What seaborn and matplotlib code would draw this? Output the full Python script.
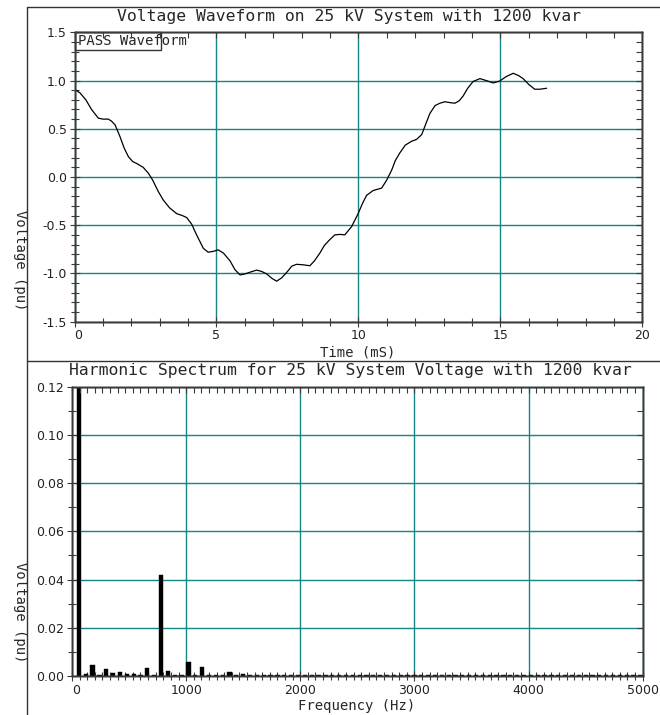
import matplotlib
matplotlib.use("Agg")
import matplotlib.pyplot as plt
import seaborn as sns
import numpy as np
import pandas as pd
from matplotlib.lines import Line2D
from matplotlib.patches import Rectangle
from matplotlib.ticker import MultipleLocator

# ---------------- data ----------------
time_ms = [0.0, 0.2, 0.4, 0.6, 0.84, 1.0, 1.19, 1.3, 1.43, 1.6, 1.75, 1.9, 2.05, 2.19,
           2.42, 2.6, 2.75, 2.95, 3.13, 3.35, 3.6, 3.8, 3.95, 4.13, 4.3, 4.54, 4.71, 4.9,
           5.06, 5.25, 5.48, 5.65, 5.83, 6.0, 6.2, 6.42, 6.6, 6.77, 6.95, 7.12, 7.3, 7.5,
           7.65, 7.82, 8.05, 8.29, 8.45, 8.64, 8.8, 8.99, 9.17, 9.35, 9.52, 9.76, 9.99,
           10.15, 10.29, 10.52, 10.82, 11.0, 11.17, 11.3, 11.46, 11.65, 11.87, 12.05,
           12.23, 12.4, 12.52, 12.7, 12.87, 13.05, 13.25, 13.4, 13.55, 13.69, 13.85,
           14.04, 14.28, 14.5, 14.75, 14.98, 15.2, 15.45, 15.65, 15.8, 16.0, 16.21,
           16.4, 16.63]
voltage_pu = [0.91, 0.87, 0.80, 0.70, 0.61, 0.60, 0.60, 0.58, 0.54, 0.42, 0.30, 0.21,
              0.16, 0.14, 0.10, 0.04, -0.03, -0.15, -0.24, -0.32, -0.38, -0.40, -0.42,
              -0.49, -0.60, -0.74, -0.78, -0.77, -0.755, -0.79, -0.87, -0.96, -1.015,
              -1.005, -0.985, -0.965, -0.98, -1.005, -1.05, -1.08, -1.045, -0.98, -0.925,
              -0.905, -0.91, -0.92, -0.87, -0.79, -0.71, -0.65, -0.60, -0.595, -0.60,
              -0.515, -0.38, -0.27, -0.19, -0.14, -0.115, -0.03, 0.07, 0.17, 0.25, 0.33,
              0.37, 0.39, 0.44, 0.57, 0.66, 0.74, 0.765, 0.78, 0.77, 0.765, 0.79, 0.84,
              0.92, 0.99, 1.02, 1.0, 0.975, 0.995, 1.04, 1.075, 1.05, 1.02, 0.96, 0.91,
              0.91, 0.92]

harmonic_order = list(range(1, 84))
harmonic_volt = [1.0, 0.0008, 0.0047, 0.0004, 0.0028, 0.0012, 0.0017, 0.0008, 0.0008,
                 0.0003, 0.0033, 0.0004, 0.042, 0.0022, 0.0005, 0.0004, 0.0057, 0.0004,
                 0.0037, 0.0003, 0.0004, 0.0003, 0.0017, 0.0003, 0.0010, 0.0003, 0.0003,
                 0.0003, 0.0004, 0.0003, 0.0003, 0.0003, 0.0003, 0.0003, 0.0003, 0.0003,
                 0.0003, 0.0003, 0.0003, 0.0003, 0.0003, 0.0003, 0.0003, 0.0003, 0.0003,
                 0.0003, 0.0003, 0.0003, 0.0003, 0.0003, 0.0003, 0.0003, 0.0003, 0.0003,
                 0.0003, 0.0003, 0.0003, 0.0003, 0.0003, 0.0003, 0.0003, 0.0003, 0.0003,
                 0.0003, 0.0003, 0.0003, 0.0003, 0.0003, 0.0003, 0.0003, 0.0003, 0.0003,
                 0.0003, 0.0003, 0.0003, 0.0003, 0.0003, 0.0003, 0.0003, 0.0003, 0.0003,
                 0.0003, 0.0003]
fundamental_hz = 60

top_title = "Voltage Waveform on 25 kV System with 1200 kvar"
bottom_title = "Harmonic Spectrum for 25 kV System Voltage with 1200 kvar"
top_xlabel = "Time (mS)"
bottom_xlabel = "Frequency (Hz)"
ylabel = "Voltage (pu)"
legend_text = "PASS Waveform"
top_xticks = [0, 5, 10, 15, 20]
top_yticks = [-1.5, -1.0, -0.5, 0.0, 0.5, 1.0, 1.5]
bot_xticks = [0, 1000, 2000, 3000, 4000, 5000]
bot_yticks = [0.00, 0.02, 0.04, 0.06, 0.08, 0.10, 0.12]

# ---------------- style ----------------
sns.set_style("white")
plt.rcParams["font.family"] = ["DejaVu Sans"]
MONO = "DejaVu Sans Mono"
GRID = "#168585"
SPINE = "#3a3a3a"

fig = plt.figure(figsize=(6.6, 7.15), dpi=100)
W, H = 660.0, 715.0

def px_axes(l, t, r, b):
    return fig.add_axes([l / W, 1 - b / H, (r - l) / W, (b - t) / H])

ax1 = px_axes(74.5, 32.3, 642.3, 321.7)
ax2 = px_axes(72.0, 386.7, 642.7, 676.0)

def style_axes(ax, xmaj, xmin, ymaj, ymin):
    ax.xaxis.set_major_locator(MultipleLocator(xmaj))
    ax.xaxis.set_minor_locator(MultipleLocator(xmin))
    ax.yaxis.set_major_locator(MultipleLocator(ymaj))
    ax.yaxis.set_minor_locator(MultipleLocator(ymin))
    ax.grid(True, which="major", color=GRID, lw=1.0)
    ax.grid(False, which="minor")
    ax.set_axisbelow(True)
    for s in ax.spines.values():
        s.set_color(SPINE)
        s.set_linewidth(1.0)
    ax.tick_params(which="both", direction="inout", width=0.8, bottom=True, left=True,
                   top=False, right=False, color=SPINE, labelsize=9,
                   labelcolor="#222222", pad=2)
    ax.tick_params(which="major", length=7)
    ax.tick_params(which="minor", length=6)
    # inward ticks on top and right
    axt = ax.twiny()
    axt.set_xlim(ax.get_xlim())
    axt.xaxis.set_major_locator(MultipleLocator(xmaj))
    axt.xaxis.set_minor_locator(MultipleLocator(xmin))
    axt.tick_params(which="both", direction="in", length=4, width=0.8, top=True,
                    bottom=False, labeltop=False, labelbottom=False, color=SPINE)
    axt.grid(False)
    axr = ax.twinx()
    axr.set_ylim(ax.get_ylim())
    axr.yaxis.set_major_locator(MultipleLocator(ymaj))
    axr.yaxis.set_minor_locator(MultipleLocator(ymin))
    axr.tick_params(which="both", direction="in", length=4, width=0.8, right=True,
                    left=False, labelright=False, labelleft=False, color=SPINE)
    axr.grid(False)
    for a in (axt, axr):
        for s in a.spines.values():
            s.set_color(SPINE)
            s.set_linewidth(1.0)

# ---------------- top: waveform ----------------
wave = pd.DataFrame({"t": time_ms, "v": voltage_pu})
sns.lineplot(data=wave, x="t", y="v", ax=ax1, color="black", lw=0.9, sort=False)
ax1.set_xlim(0, 20)
ax1.set_ylim(-1.5, 1.5)
style_axes(ax1, 5, 1, 0.5, 0.1)
ax1.set_xticks(top_xticks)
ax1.set_xticklabels([str(v) for v in top_xticks])
ax1.set_yticks(top_yticks)
ax1.set_yticklabels([f"{v:.1f}" for v in top_yticks])
ax1.get_xticklabels()[0].set_ha("left")
ax1.set_xlabel("")
ax1.set_ylabel("")
ax1.add_patch(Rectangle((0.0, 0.94), 0.153, 0.06, transform=ax1.transAxes,
                        fill=False, edgecolor="#333333", lw=1.0, clip_on=False, zorder=5))
ax1.text(0.006, 0.969, legend_text, transform=ax1.transAxes, family=MONO,
         fontsize=10, va="center", ha="left", zorder=6)

# ---------------- bottom: spectrum ----------------
spec = pd.DataFrame({"f": [n * fundamental_hz for n in harmonic_order],
                     "v": harmonic_volt})
sns.barplot(data=spec, x="f", y="v", ax=ax2, native_scale=True, color="black",
            width=0.62, saturation=1, edgecolor="black", linewidth=0.3)
ax2.set_xlim(0, 5000)
ax2.set_ylim(0, 0.12)
style_axes(ax2, 1000, 1000 / 15, 0.02, 0.01)
ax2.set_xticks(bot_xticks)
ax2.set_xticklabels([str(v) for v in bot_xticks])
ax2.set_yticks(bot_yticks)
ax2.set_yticklabels([f"{v:.2f}" for v in bot_yticks])
ax2.get_xticklabels()[0].set_ha("left")
ax2.set_xlabel("")
ax2.set_ylabel("")

# ---------------- titles / labels ----------------
fig.text(349 / W, 1 - 16 / H, top_title, family=MONO, fontsize=11.8,
         ha="center", va="center")
fig.text(350 / W, 1 - 371 / H, bottom_title, family=MONO, fontsize=11.8,
         ha="center", va="center")
fig.text(358 / W, 1 - 353 / H, top_xlabel, family=MONO, fontsize=10,
         ha="center", va="center")
fig.text(357 / W, 1 - 706 / H, bottom_xlabel, family=MONO, fontsize=10,
         ha="center", va="center")
fig.text(19.5 / W, 1 - 260 / H, ylabel, family=MONO, fontsize=10, rotation=270,
         ha="center", va="center")
fig.text(19.5 / W, 1 - 612 / H, ylabel, family=MONO, fontsize=10, rotation=270,
         ha="center", va="center")

# panel frame lines
for (x0, y0, x1, y1) in [(27, 7, 660, 7), (27, 7, 27, 715), (27, 360.5, 660, 360.5)]:
    fig.add_artist(Line2D([x0 / W, x1 / W], [1 - y0 / H, 1 - y1 / H],
                          color="#333333", lw=1.0, transform=fig.transFigure))

fig.savefig("out.png", dpi=100)
